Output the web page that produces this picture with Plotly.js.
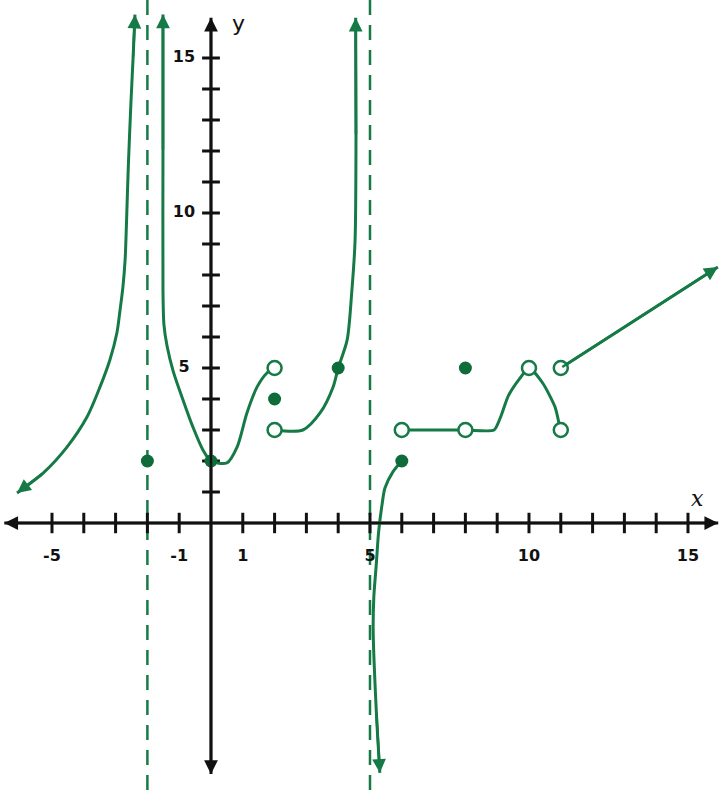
<!DOCTYPE html>
<html>
<head>
<meta charset="utf-8">
<script src="https://cdn.plot.ly/plotly-3.0.1.min.js"></script>
<style>
  html, body { margin: 0; padding: 0; background: #fff; }
  #graph { width: 719px; height: 790px; }
</style>
</head>
<body>
<div id="graph"></div>
<script>
// pieces of the graph
const branch_a_x = [-6.1, -5.28, -4.53, -3.9, -3.49, -3.18, -2.96, -2.86, -2.77, -2.7, -2.66, -2.6, -2.52, -2.45, -2.39];
const branch_a_y = [0.97, 1.61, 2.45, 3.42, 4.39, 5.26, 6.13, 6.87, 7.61, 8.5, 9.6, 11.5, 13.5, 15.0, 16.4];

const branch_b_x = [-1.51, -1.51, -1.51, -1.48, -1.38, -1.19, -0.88, -0.57, -0.25, 0, 0.5, 0.82, 1.13, 1.45, 1.76, 2];
const branch_b_y = [16.4, 12.0, 7.5, 6.4, 5.7, 4.9, 3.97, 3.1, 2.35, 2.0, 1.94, 2.45, 3.55, 4.39, 4.84, 5];

const branch_c_x = [2, 2.89, 3.43, 3.84, 4, 4.28, 4.43, 4.53, 4.56, 4.55];
const branch_c_y = [3, 3.0, 3.55, 4.39, 5, 5.9, 7.5, 9.1, 12.5, 16.3];

// lower branch right of x = 5, listed from the dot down to the arrow
const branch_d_x = [6, 5.72, 5.47, 5.38, 5.27, 5.2, 5.12, 5.1, 5.2, 5.31];
const branch_d_y = [2, 1.65, 1.13, 0.6, -0.3, -1.3, -2.4, -3.45, -6.1, -8.06];

const branch_e_x = [6, 8, 8.9, 9.1, 9.35, 9.7, 10, 10.44, 10.82, 10.97, 11];
const branch_e_y = [3, 3, 3.0, 3.4, 4.1, 4.65, 5, 4.5, 3.74, 3.1, 3];

const branch_f_x = [11, 15.94];
const branch_f_y = [5, 8.26];

const asymptotes = [-2, 5];

const filled_x = [-2, 0, 2, 4, 6, 8];
const filled_y = [2, 2, 4, 5, 2, 5];
const open_x = [2, 2, 6, 8, 10, 11, 11];
const open_y = [5, 3, 3, 3, 5, 3, 5];

const x_ticks = [-5, -4, -3, -2, -1, 1, 2, 3, 4, 5, 6, 7, 8, 9, 10, 11, 12, 13, 14, 15];
const y_ticks = [1, 2, 3, 4, 5, 6, 7, 8, 9, 10, 11, 12, 13, 14, 15];
const x_labels = [-5, -1, 1, 5, 10, 15];
const y_labels = [5, 10, 15];

const green = "#157a45";
const dot_green = "#0e6b3a";
const x_range = [-6.635, 15.975];
const y_range = [-8.613, 16.871];

function curve(xs, ys, smoothing) {
    return {
        type: "scatter",
        mode: "lines",
        x: xs,
        y: ys,
        line: { color: green, width: 3, shape: "spline", smoothing: smoothing },
        hoverinfo: "skip",
    };
}

// arrowhead at the last point of a series, pointing along its last segment
function arrow_at_end(xs, ys, color) {
    const n = xs.length;
    return {
        x: xs[n - 1], y: ys[n - 1],
        ax: xs[n - 2], ay: ys[n - 2],
        xref: "x", yref: "y", axref: "x", ayref: "y",
        text: "", showarrow: true,
        arrowhead: 2, arrowsize: 1.1, arrowwidth: 2.5,
        arrowcolor: color,
    };
}

function tick_segments(ticks, vertical, half) {
    const xs = [];
    const ys = [];
    ticks.forEach(t => {
        if (vertical) {
            xs.push(t, t, null);
            ys.push(-half, half, null);
        } else {
            xs.push(-half, half, null);
            ys.push(t, t, null);
        }
    });
    return { xs, ys };
}

const dashed = [];
asymptotes.forEach(a => {
    dashed.push({
        type: "scatter",
        mode: "lines",
        x: [a, a],
        y: y_range,
        line: { color: green, width: 2.5, dash: "15px,10px" },
        hoverinfo: "skip",
    });
});

const x_axis_x = [-6.5, 15.95];
const y_axis_y = [-8.1, 16.3];
const xt = tick_segments(x_ticks, true, 0.33);
const yt = tick_segments(y_ticks, false, 0.28);
const label_font = { family: "DejaVu Sans", size: 16, color: "#111", weight: "bold" };

const axes = [
    {
        type: "scatter", mode: "lines",
        x: x_axis_x, y: [0, 0],
        line: { color: "#111", width: 3 }, hoverinfo: "skip",
    },
    {
        type: "scatter", mode: "lines",
        x: [0, 0], y: y_axis_y,
        line: { color: "#111", width: 3 }, hoverinfo: "skip",
    },
    {
        type: "scatter", mode: "lines",
        x: xt.xs, y: xt.ys,
        line: { color: "#111", width: 3 }, hoverinfo: "skip",
    },
    {
        type: "scatter", mode: "lines",
        x: yt.xs, y: yt.ys,
        line: { color: "#111", width: 3 }, hoverinfo: "skip",
    },
    {
        type: "scatter", mode: "text",
        x: x_labels, y: x_labels.map(() => -1.1),
        text: x_labels.map(String),
        textfont: label_font,
        hoverinfo: "skip",
    },
    {
        type: "scatter", mode: "text",
        x: y_labels.map(() => -0.85), y: y_labels,
        text: y_labels.map(String),
        textfont: label_font,
        hoverinfo: "skip",
    },
];

const curves = [
    curve(branch_a_x, branch_a_y, 0.8),
    curve(branch_b_x, branch_b_y, 0.8),
    curve(branch_c_x, branch_c_y, 0.8),
    curve(branch_d_x, branch_d_y, 0.8),
    curve(branch_e_x, branch_e_y, 0.6),
    curve(branch_f_x, branch_f_y, 0),
];

const points = [
    {
        type: "scatter", mode: "markers",
        x: open_x, y: open_y,
        marker: { symbol: "circle", size: 14, color: "#fff", line: { color: green, width: 2.5 } },
        hoverinfo: "skip",
    },
    {
        type: "scatter", mode: "markers",
        x: filled_x, y: filled_y,
        marker: { symbol: "circle", size: 13, color: dot_green },
        hoverinfo: "skip",
    },
];

const annotations = [
    arrow_at_end(branch_a_x, branch_a_y, green),
    arrow_at_end(branch_a_x.slice(0, 2).reverse(), branch_a_y.slice(0, 2).reverse(), green),
    arrow_at_end(branch_b_x.slice(0, 2).reverse(), branch_b_y.slice(0, 2).reverse(), green),
    arrow_at_end(branch_c_x, branch_c_y, green),
    arrow_at_end(branch_d_x, branch_d_y, green),
    arrow_at_end(branch_f_x, branch_f_y, green),
    arrow_at_end([0, x_axis_x[0]], [0, 0], "#111"),
    arrow_at_end([0, x_axis_x[1]], [0, 0], "#111"),
    arrow_at_end([0, 0], [0, y_axis_y[0]], "#111"),
    arrow_at_end([0, 0], [0, y_axis_y[1]], "#111"),
    {
        x: 0.85, y: 16.1, xref: "x", yref: "y", text: "y", showarrow: false,
        font: { family: "DejaVu Sans", size: 22, color: "#111" },
    },
    {
        x: 15.3, y: 0.8, xref: "x", yref: "y", text: "<i>x</i>", showarrow: false,
        font: { family: "DejaVu Serif", size: 22, color: "#111" },
    },
];

const layout = {
    width: 719,
    height: 790,
    margin: { l: 0, r: 0, t: 0, b: 0 },
    paper_bgcolor: "#fff",
    plot_bgcolor: "#fff",
    showlegend: false,
    xaxis: { range: x_range, visible: false, fixedrange: true },
    yaxis: { range: y_range, visible: false, fixedrange: true },
    annotations: annotations,
};

const config = { displayModeBar: false, staticPlot: true };

Plotly.newPlot("graph", [...dashed, ...axes, ...curves, ...points], layout, config);
</script>
</body>
</html>
